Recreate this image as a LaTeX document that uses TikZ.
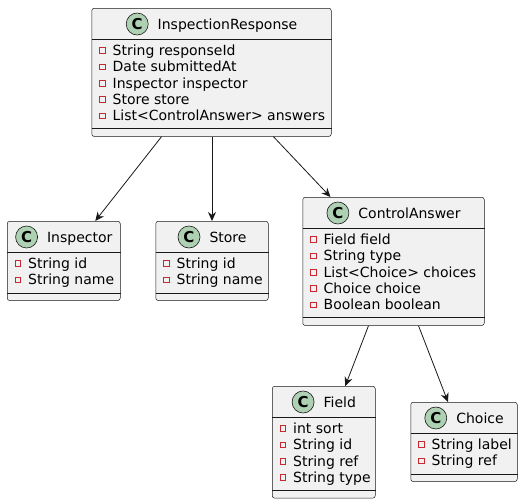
\documentclass[tikz,border=0pt]{standalone}
\usepackage{fontspec}
\setmainfont{DejaVu Sans}
\usetikzlibrary{arrows.meta,positioning}

\definecolor{umlfill}{HTML}{F1F1F1}
\definecolor{umlline}{HTML}{181818}
\definecolor{umlgreen}{HTML}{ADD1B2}
\definecolor{umlred}{HTML}{C82930}

\begin{document}
\begin{tikzpicture}[x=1pt, y=-1pt, font=\fontsize{14pt}{16pt}\selectfont,
  classbox/.style={draw=umlline, fill=umlfill, line width=0.5pt, rounded corners=2.5pt, inner sep=0pt},
  classicon/.style={circle, draw=umlline, fill=umlgreen, line width=0.6pt, minimum size=22pt,
    inner sep=0pt, font=\fontsize{15pt}{16pt}\selectfont\bfseries},
  classname/.style={inner sep=0pt, text height=10.2pt, text depth=0pt},
  attrmark/.style={draw=umlred, line width=0.6pt, minimum size=5.5pt, inner sep=0pt},
  attrname/.style={anchor=west, inner sep=0pt, text height=10.2pt, text depth=0pt},
  assoc/.style={draw=umlline, line width=0.8pt, -{Stealth[length=9pt, width=8pt, inset=3pt]}}]

\useasboundingbox (0,0) rectangle (523,504);

% Class box: name, left, top, width, number of fields, title, fields
\def\umlclass#1#2#3#4#5#6#7{
  \node[classbox, anchor=north west, minimum width=#4,
    minimum height={63+16.3*(#5-1)}] (#1) at (#2,#3) {};
  \draw[umlline, line width=0.5pt] ([yshift=-31pt]#1.north west) -- ([yshift=-31pt]#1.north east);
  \draw[umlline, line width=0.5pt] ([yshift=8pt]#1.south west) -- ([yshift=8pt]#1.south east);
  \node[classname] (#1-t) at ([xshift=16pt, yshift=-16pt]#1.north) {#6};
  \node[classicon, left=9pt of #1-t] (#1-c) {C};
  \foreach \a [count=\i from 0] in {#7} {
    \node[attrmark] at ([xshift=11pt, yshift={-42.5-16.3*\i}]#1.north west) {};
    \node[attrname] at ([xshift=21pt, yshift={-42.5-16.3*\i}]#1.north west) {\a};
  }
}

% Classes
\umlclass{response}{91.5}{8}{239.5}{5}{InspectionResponse}
  {String responseId, Date submittedAt, Inspector inspector, Store store, List<ControlAnswer> answers}
\umlclass{inspector}{7}{221}{113}{2}{Inspector}{String id, String name}
\umlclass{store}{155.5}{221}{112.5}{2}{Store}{String id, String name}
\umlclass{answer}{302.5}{197}{181.5}{5}{ControlAnswer}
  {Field field, String type, List<Choice> choices, Choice choice, Boolean boolean}
\umlclass{field}{272}{386}{103}{4}{Field}{int sort, String id, String ref, String type}
\umlclass{choice}{410.5}{402}{106.5}{2}{Choice}{String label, String ref}

% Associations
\draw[assoc] ([xshift=-50pt]response.south) -- ([xshift=31.5pt]inspector.north);
\draw[assoc] ([xshift=0.5pt]response.south) -- (store.north);
\draw[assoc] ([xshift=62pt]response.south) -- ([xshift=-63pt]answer.north);
\draw[assoc] ([xshift=-25pt]answer.south) -- ([xshift=21.5pt]field.north);
\draw[assoc] ([xshift=25pt]answer.south) -- ([xshift=-16pt]choice.north);

\end{tikzpicture}
\end{document}
